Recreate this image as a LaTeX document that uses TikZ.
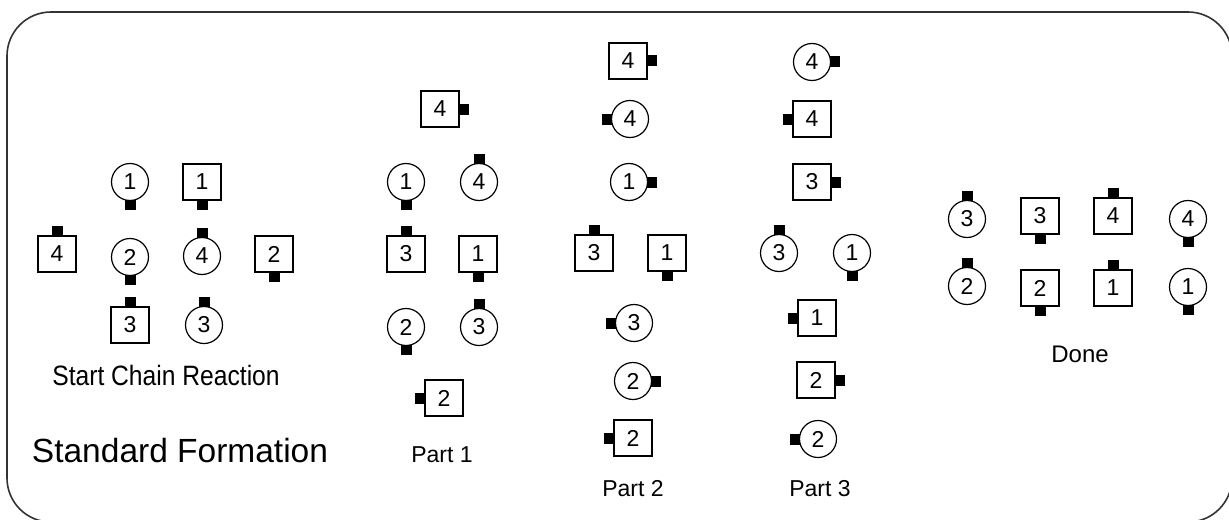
\documentclass[tikz,border=0pt]{standalone}
\usepackage{fontspec}
\setmainfont{Liberation Sans}
\newcommand\rob[6]{%
  \node[#2] (#1) at (#3,#4) {#5};
  \node[tab#6] (#1t) at (#1.#6) {};
}
\tikzset{
  frame/.style={draw=black!80, line width=0.8pt, rounded corners=22pt},
  circ/.style={draw, circle, line width=0.6pt, minimum size=18.5pt, inner sep=0pt, font=\fontsize{11.5}{13}\selectfont},
  sq/.style={draw, rectangle, line width=0.6pt, minimum width=19pt, minimum height=18pt, inner sep=0pt, font=\fontsize{11.5}{13}\selectfont},
  tabv/.style={fill=black, draw=none, minimum width=5.5pt, minimum height=5pt, inner sep=0pt},
  tabh/.style={fill=black, draw=none, minimum width=5pt, minimum height=5.5pt, inner sep=0pt},
  tabnorth/.style={tabv, anchor=south, yshift=-0.6pt},
  tabsouth/.style={tabv, anchor=north, yshift=0.6pt},
  tabeast/.style={tabh, anchor=west, xshift=-0.6pt},
  tabwest/.style={tabh, anchor=east, xshift=0.6pt},
  lbl/.style={anchor=base, inner sep=0pt}
}
\begin{document}
\begin{tikzpicture}[x=0.5pt, y=-0.5pt]
\useasboundingbox (0,0) rectangle (1229,519);
\draw[frame] (7,12) rectangle (1232,522);
% Start Chain Reaction
\rob{a1}{circ}{130}{182}{1}{south}
\rob{a2}{sq}{202}{182}{1}{south}
\rob{a3}{sq}{57}{254}{4}{north}
\rob{a4}{circ}{130}{257}{2}{south}
\rob{a5}{circ}{202}{256}{4}{north}
\rob{a6}{sq}{274}{254}{2}{south}
\rob{a7}{sq}{130}{325}{3}{north}
\rob{a8}{circ}{204}{325}{3}{north}
\node[lbl, font=\fontsize{14}{16}\selectfont] (t1) at (166,385) {\scalebox{0.88}[1]{Start Chain Reaction}};
\node[lbl, font=\fontsize{16.75}{20}\selectfont] (t0) at (180,462) {Standard Formation};
% Part 1
\rob{b1}{sq}{440}{109}{4}{east}
\rob{b2}{circ}{406}{182}{1}{south}
\rob{b3}{circ}{479}{182}{4}{north}
\rob{b4}{sq}{406}{254}{3}{north}
\rob{b5}{sq}{478}{254}{1}{south}
\rob{b6}{circ}{406}{327}{2}{south}
\rob{b7}{circ}{479}{327}{3}{north}
\rob{b8}{sq}{444}{398}{2}{west}
\node[lbl, font=\fontsize{11.5}{14}\selectfont] (t2) at (442,462) {Part 1};
% Part 2
\rob{c1}{sq}{628}{61}{4}{east}
\rob{c2}{circ}{630}{119}{4}{west}
\rob{c3}{circ}{629}{182}{1}{east}
\rob{c4}{sq}{594}{253}{3}{north}
\rob{c5}{sq}{667}{253}{1}{south}
\rob{c6}{circ}{634}{323}{3}{west}
\rob{c7}{circ}{633}{381}{2}{east}
\rob{c8}{sq}{633}{438}{2}{west}
\node[lbl, font=\fontsize{11.5}{14}\selectfont] (t3) at (633,496) {Part 2};
% Part 3
\rob{d1}{circ}{812}{62}{4}{east}
\rob{d2}{sq}{812}{119}{4}{west}
\rob{d3}{sq}{812}{182}{3}{east}
\rob{d4}{circ}{779}{253}{3}{north}
\rob{d5}{circ}{852}{253}{1}{south}
\rob{d6}{sq}{817}{318}{1}{west}
\rob{d7}{sq}{816}{380}{2}{east}
\rob{d8}{circ}{818}{439}{2}{west}
\node[lbl, font=\fontsize{11.5}{14}\selectfont] (t4) at (820,496) {Part 3};
% Done
\rob{e1}{circ}{967}{219}{3}{north}
\rob{e2}{sq}{1040}{216}{3}{south}
\rob{e3}{sq}{1113}{216}{4}{north}
\rob{e4}{circ}{1188}{219}{4}{south}
\rob{e5}{circ}{967}{286}{2}{north}
\rob{e6}{sq}{1040}{288}{2}{south}
\rob{e7}{sq}{1113}{288}{1}{north}
\rob{e8}{circ}{1188}{287}{1}{south}
\node[lbl, font=\fontsize{12}{14}\selectfont] (t5) at (1080,362) {Done};
\end{tikzpicture}
\end{document}
